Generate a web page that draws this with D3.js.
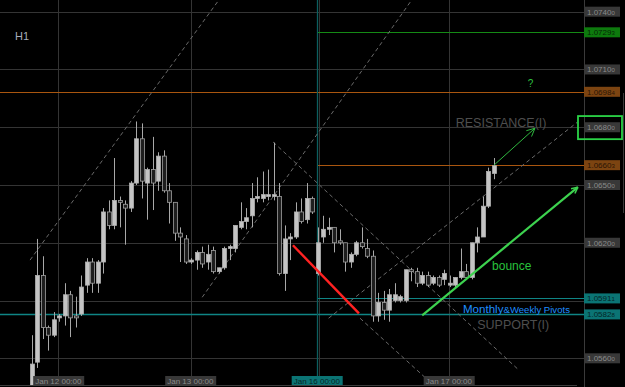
<!DOCTYPE html>
<html>
<head>
<meta charset="utf-8">
<script src="https://cdn.jsdelivr.net/npm/d3@7"></script>
<style>
body { margin: 0; background: #000; overflow: hidden; }
text { font-family: "Liberation Sans", Arial, sans-serif; }
</style>
</head>
<body>
<script>
var svgWidth = 625;
var svgHeight = 387;

// H1 candles, oldest first
var opens  = [1.0546,1.0558,1.0603,1.0576,1.0572,1.0581,1.0582,1.0593,1.0582,1.0583,
              1.0598,1.0610,1.0599,1.0610,1.0636,1.0629,1.0642,1.0640,1.0638,1.0651,
              1.0674,1.0651,1.0658,1.0652,1.0665,1.0647,1.0641,1.0625,1.0622,1.0610,
              1.0611,1.0615,1.0610,1.0616,1.0605,1.0607,1.0617,1.0617,1.0628,1.0631,
              1.0634,1.0643,1.0643,1.0644,1.0644,1.0644,1.0604,1.0622,1.0623,1.0636,
              1.0632,1.0643,1.0604,1.0623,1.0627,1.0628,1.0621,1.0620,1.0610,1.0614,
              1.0620,1.0617,1.0613,1.0582,1.0589,1.0585,1.0590,1.0590,1.0590,1.0606,
              1.0605,1.0599,1.0603,1.0599,1.0602,1.0601,1.0598,1.0598,1.0602,1.0605,
              1.0602,1.0620,1.0623,1.0639,1.0656];
var highs  = [1.0572,1.0622,1.0613,1.0577,1.0584,1.0583,1.0599,1.0595,1.0592,1.0603,
              1.0612,1.0612,1.0611,1.0638,1.0642,1.0664,1.0644,1.0642,1.0652,1.0683,
              1.0682,1.0659,1.0675,1.0667,1.0668,1.0651,1.0641,1.0628,1.0624,1.0612,
              1.0616,1.0618,1.0619,1.0618,1.0607,1.0618,1.0619,1.0629,1.0641,1.0638,
              1.0651,1.0654,1.0657,1.0658,1.0672,1.0651,1.0629,1.0625,1.0641,1.0643,
              1.0651,1.0644,1.0628,1.0634,1.0633,1.0628,1.0627,1.0620,1.0615,1.0621,
              1.0628,1.0622,1.0616,1.0594,1.0595,1.0596,1.0599,1.0593,1.0606,1.0607,
              1.0607,1.0605,1.0605,1.0603,1.0603,1.0606,1.0603,1.0602,1.0617,1.0609,
              1.0620,1.0628,1.0644,1.0659,1.0664];
var lows   = [1.0544,1.0555,1.0570,1.0564,1.0571,1.0579,1.0577,1.0571,1.0576,1.0582,
              1.0594,1.0594,1.0594,1.0604,1.0627,1.0627,1.0628,1.0619,1.0636,1.0650,
              1.0643,1.0632,1.0637,1.0647,1.0646,1.0630,1.0621,1.0610,1.0609,1.0609,
              1.0606,1.0607,1.0606,1.0604,1.0604,1.0606,1.0611,1.0615,1.0627,1.0627,
              1.0628,1.0641,1.0641,1.0642,1.0642,1.0603,1.0595,1.0611,1.0622,1.0630,
              1.0630,1.0635,1.0603,1.0620,1.0624,1.0615,1.0619,1.0605,1.0607,1.0613,
              1.0617,1.0612,1.0579,1.0579,1.0580,1.0579,1.0589,1.0589,1.0589,1.0600,
              1.0597,1.0598,1.0597,1.0598,1.0597,1.0598,1.0597,1.0597,1.0601,1.0601,
              1.0601,1.0615,1.0623,1.0638,1.0653];
var closes = [1.0557,1.0603,1.0576,1.0572,1.0580,1.0582,1.0593,1.0581,1.0581,1.0597,
              1.0610,1.0599,1.0610,1.0636,1.0629,1.0642,1.0641,1.0638,1.0651,1.0674,
              1.0652,1.0658,1.0651,1.0665,1.0647,1.0641,1.0625,1.0623,1.0610,1.0611,
              1.0615,1.0609,1.0614,1.0605,1.0607,1.0617,1.0618,1.0629,1.0631,1.0633,
              1.0643,1.0644,1.0645,1.0645,1.0645,1.0604,1.0622,1.0623,1.0636,1.0631,
              1.0643,1.0636,1.0620,1.0627,1.0628,1.0620,1.0620,1.0610,1.0614,1.0620,
              1.0618,1.0613,1.0582,1.0589,1.0585,1.0593,1.0593,1.0592,1.0606,1.0605,
              1.0599,1.0603,1.0598,1.0602,1.0598,1.0604,1.0599,1.0602,1.0605,1.0602,
              1.0620,1.0623,1.0639,1.0657,1.0660];

// time axis
var timeLabels = ["Jan 12 00:00", "Jan 13 00:00", "Jan 16 00:00", "Jan 17 00:00"];
var timeIdx    = [1, 25, 48, 72];
var gridIdx    = [4.8, 29, 52.3, 75.9];
var markerIdx  = 51.9;   // teal vertical line

// price axis (1.0590 sits under the pivot boxes, only its grid line shows)
var priceTicks  = [1.0740, 1.0710, 1.0680, 1.0650, 1.0620, 1.0590, 1.0560];
var priceLabels = [1.0740, 1.0710, 1.0680, 1.0650, 1.0620, 1.0560];

// horizontal levels
var levelPrices = [1.07293, 1.06984, 1.06603, 1.05911, 1.05828];
var levelStart  = [51.9, -10, 51.9, 51.9, -10];
var levelKind   = ["green", "orange", "orange", "teal", "teal"];

// trend lines [idx1, price1, idx2, price2]
var dashedLines = [
    [-0.3, 1.06110, 30.4, 1.07318],
    [31.0, 1.05917, 53.7, 1.06837],
    [43.9, 1.06723, 65.1, 1.06161],
    [65.7, 1.06072, 99.2, 1.06826],
    [59.7, 1.05808, 71.3, 1.05506]
];
var dashExt = [[0, 1], [0, 1], [0, 1.1], [0.35, 0], [0, 0.2]];
var redLine    = [47.5, 1.06187, 59.5, 1.05833];
var bounceLine = [71.0, 1.05823, 99.3, 1.06489];
var upArrow    = [84.05, 1.06603, 91.5, 1.06795];

var palette = {
    green:  { line: "#158a15", box: "#0d7a0d", text: "#062806" },
    orange: { line: "#a9560f", box: "#7c4411", text: "#2a1505" },
    teal:   { line: "#0f8585", box: "#0b7474", text: "#042626" },
    grey:   { line: "#333333", box: "#383838", text: "#8a8a8a" }
};

var plotRight = 584;
var plotBottom = 385;

var x = d3.scaleLinear().domain([0, 84]).range([31.7, 493.7]);
var y = d3.scaleLinear().domain([1.0560, 1.0740]).range([358.3, 11.7]);

var svg = d3.select("body").append("svg").attr("width", svgWidth).attr("height", svgHeight);
svg.append("rect").attr("width", svgWidth).attr("height", svgHeight).attr("fill", "#000");

svg.append("clipPath").attr("id", "plot")
    .append("rect").attr("x", 0).attr("y", 0).attr("width", plotRight).attr("height", plotBottom);

var plot = svg.append("g").attr("clip-path", "url(#plot)");

// grid
plot.selectAll(".hgrid").data(priceTicks).join("line")
    .attr("class", "hgrid")
    .attr("x1", 0).attr("x2", plotRight)
    .attr("y1", function(d) { return Math.round(y(d)) + 0.5; })
    .attr("y2", function(d) { return Math.round(y(d)) + 0.5; })
    .attr("stroke", "#343434");

plot.selectAll(".vgrid").data(gridIdx).join("line")
    .attr("class", "vgrid")
    .attr("x1", function(d) { return Math.round(x(d)) + 0.5; })
    .attr("x2", function(d) { return Math.round(x(d)) + 0.5; })
    .attr("y1", 0).attr("y2", plotBottom)
    .attr("stroke", "#343434");

// levels
var levels = levelPrices.map(function(p, i) { return { price: p, start: levelStart[i], kind: levelKind[i] }; });
plot.selectAll(".level").data(levels).join("line")
    .attr("class", "level")
    .attr("x1", function(d) { return x(d.start); })
    .attr("x2", plotRight)
    .attr("y1", function(d) { return Math.round(y(d.price)) + 0.5; })
    .attr("y2", function(d) { return Math.round(y(d.price)) + 0.5; })
    .attr("stroke", function(d) { return palette[d.kind].line; })
    .attr("stroke-width", function(d) { return d.price == 1.05828 ? 1.5 : 1; });

plot.append("line")
    .attr("x1", Math.round(x(markerIdx)) + 0.5).attr("x2", Math.round(x(markerIdx)) + 0.5)
    .attr("y1", 0).attr("y2", plotBottom)
    .attr("stroke", "#0c5f5f").attr("stroke-width", 1.3);

// dashed trend lines, extended
function extend(l, k) {
    var x1 = x(l[0]), y1 = y(l[1]), x2 = x(l[2]), y2 = y(l[3]);
    var dx = x2 - x1, dy = y2 - y1;
    return [x1 - dx * k[0], y1 - dy * k[0], x2 + dx * k[1], y2 + dy * k[1]];
}
plot.selectAll(".dash").data(dashedLines).join("line")
    .attr("class", "dash")
    .attr("x1", function(d, i) { return extend(d, dashExt[i])[0]; })
    .attr("y1", function(d, i) { return extend(d, dashExt[i])[1]; })
    .attr("x2", function(d, i) { return extend(d, dashExt[i])[2]; })
    .attr("y2", function(d, i) { return extend(d, dashExt[i])[3]; })
    .attr("stroke", "#6a6a6a")
    .attr("stroke-dasharray", "4,3");

// candles
var candles = opens.map(function(o, i) {
    return { i: i, o: o, h: highs[i], l: lows[i], c: closes[i] };
});
var cg = plot.selectAll(".candle").data(candles).join("g").attr("class", "candle");

cg.append("line")
    .attr("x1", function(d) { return Math.round(x(d.i)) + 0.5; })
    .attr("x2", function(d) { return Math.round(x(d.i)) + 0.5; })
    .attr("y1", function(d) { return y(d.h); })
    .attr("y2", function(d) { return y(d.l); })
    .attr("stroke", "#a8a8a8");

cg.append("rect")
    .attr("x", function(d) { return Math.round(x(d.i)) - 1.5; })
    .attr("y", function(d) { return y(Math.max(d.o, d.c)); })
    .attr("width", 4)
    .attr("height", function(d) { return Math.max(1, Math.abs(y(d.o) - y(d.c))); })
    .attr("fill", function(d) { return d.c >= d.o ? "#c4c4c4" : "#1e1e1e"; })
    .attr("stroke", function(d) { return d.c >= d.o ? "#b0b0b0" : "#a0a0a0"; })
    .attr("stroke-width", 0.8);

// drawn lines
plot.append("line")
    .attr("x1", x(redLine[0])).attr("y1", y(redLine[1]))
    .attr("x2", x(redLine[2])).attr("y2", y(redLine[3]))
    .attr("stroke", "#ff2222").attr("stroke-width", 2.4);

function arrowHead(g, l, len, color, w) {
    var x1 = x(l[0]), y1 = y(l[1]), x2 = x(l[2]), y2 = y(l[3]);
    var a = Math.atan2(y2 - y1, x2 - x1);
    [-0.45, 0.45].forEach(function(s) {
        g.append("line")
            .attr("x1", x2).attr("y1", y2)
            .attr("x2", x2 - len * Math.cos(a + s)).attr("y2", y2 - len * Math.sin(a + s))
            .attr("stroke", color).attr("stroke-width", w);
    });
}

svg.append("line")
    .attr("x1", x(bounceLine[0])).attr("y1", y(bounceLine[1]))
    .attr("x2", x(bounceLine[2])).attr("y2", y(bounceLine[3]))
    .attr("stroke", "#3dd24f").attr("stroke-width", 2.2);
arrowHead(svg, bounceLine, 7, "#3dd24f", 1.5);

svg.append("line")
    .attr("x1", x(upArrow[0])).attr("y1", y(upArrow[1]))
    .attr("x2", x(upArrow[2])).attr("y2", y(upArrow[3]))
    .attr("stroke", "#2fb83f").attr("stroke-width", 1);
arrowHead(svg, upArrow, 9, "#2fb83f", 1);

// texts
svg.append("text").attr("x", 15).attr("y", 40)
    .attr("font-size", 11).attr("fill", "#a6aebb").text("H1");

svg.append("text").attr("x", x(90.2)).attr("y", y(1.0701))
    .attr("font-size", 10).attr("fill", "#2fc040").text("?");

svg.append("text").attr("x", x(77.1)).attr("y", y(1.06803))
    .attr("font-size", 12.5).attr("fill", "#4e4e4e").text("RESISTANCE(I)");

svg.append("text").attr("x", x(81)).attr("y", y(1.05753))
    .attr("font-size", 12.5).attr("fill", "#4e4e4e").text("SUPPORT(I)");

svg.append("text").attr("x", x(83.7)).attr("y", y(1.0606))
    .attr("font-size", 12).attr("fill", "#28c23c").text("bounce");

var piv = svg.append("text").attr("x", x(78.4)).attr("y", y(1.05834)).attr("fill", "#1e8fff");
piv.append("tspan").attr("font-size", 11.6).text("Monthly");
piv.append("tspan").attr("font-size", 9.6).text("&Weekly Pivots");

// price axis
svg.append("line").attr("x1", plotRight + 0.5).attr("x2", plotRight + 0.5)
    .attr("y1", 0).attr("y2", svgHeight).attr("stroke", "#3a3a3a");
svg.append("line").attr("x1", 623.5).attr("x2", 623.5)
    .attr("y1", 93).attr("y2", 213).attr("stroke", "#3a3a3a");

function priceBox(p, kind) {
    var c = palette[kind];
    var yy = y(p);
    var g = svg.append("g");
    g.append("rect").attr("x", plotRight).attr("y", yy - 5)
        .attr("width", 36).attr("height", 10).attr("fill", c.box);
    var s = p.toFixed(5);
    var t = g.append("text").attr("x", plotRight + 3).attr("y", yy + 3)
        .attr("fill", c.text).attr("font-size", 8);
    t.append("tspan").text(s.slice(0, 6));
    t.append("tspan").attr("font-size", 6).text(s.slice(6));
}
priceLabels.forEach(function(p) { priceBox(p, "grey"); });
levels.forEach(function(d) { priceBox(d.price, d.kind); });

svg.append("rect").attr("x", 578).attr("y", y(1.06858))
    .attr("width", 44).attr("height", y(1.06738) - y(1.06858))
    .attr("fill", "none").attr("stroke", "#2bd447").attr("stroke-width", 1.8);

// time axis
svg.append("line").attr("x1", 0).attr("x2", 577)
    .attr("y1", plotBottom + 0.5).attr("y2", plotBottom + 0.5).attr("stroke", "#3c3c3c");

timeLabels.forEach(function(lab, k) {
    var kind = lab.indexOf("Jan 16") == 0 ? "teal" : "grey";
    var bx = x(timeIdx[k]) - 4;
    svg.append("rect").attr("x", bx).attr("y", 376).attr("width", 51).attr("height", 9)
        .attr("fill", palette[kind].box);
    svg.append("text").attr("x", bx + 2).attr("y", 383.5)
        .attr("font-size", 8).attr("fill", palette[kind].text).text(lab);
});
</script>
</body>
</html>
